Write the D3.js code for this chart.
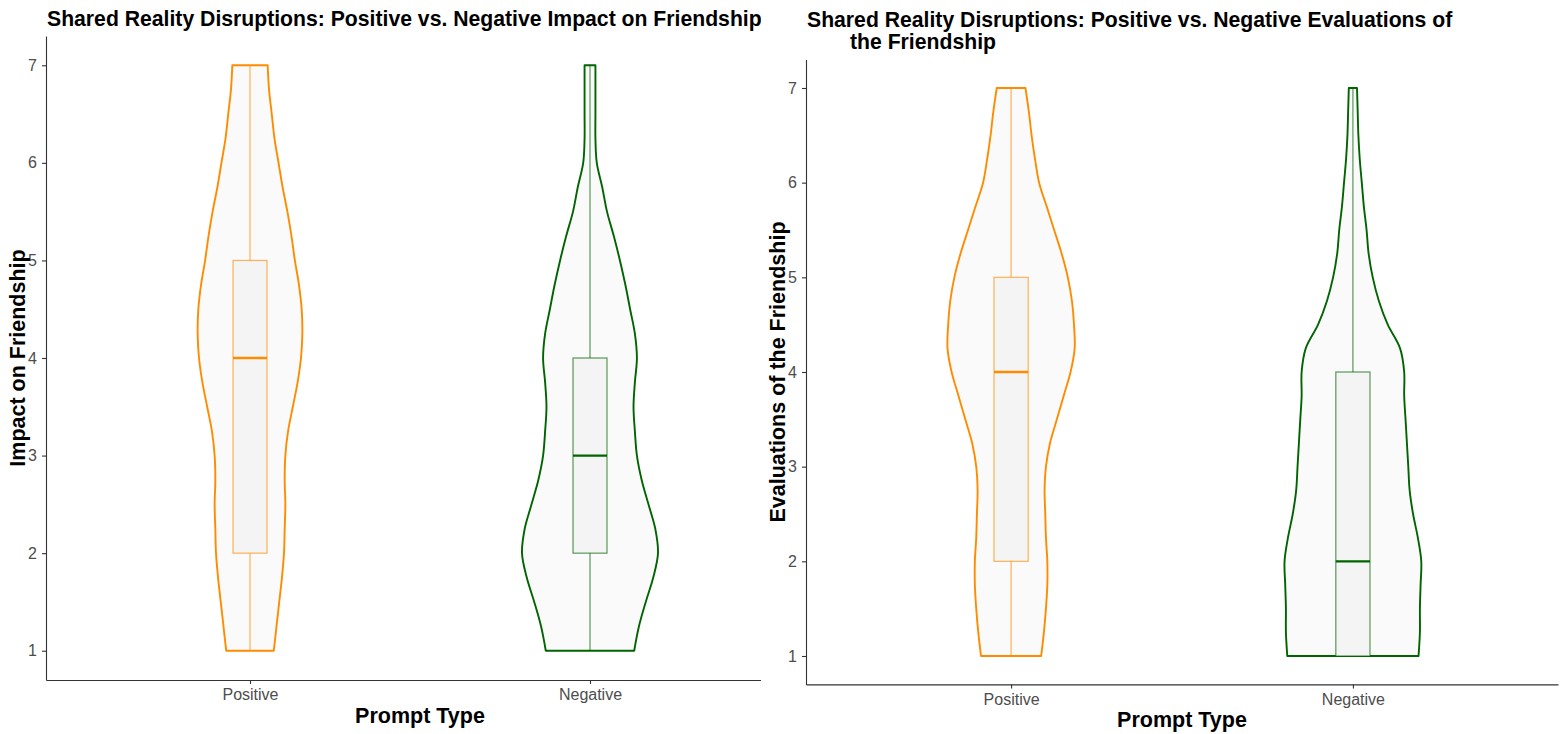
<!DOCTYPE html>
<html>
<head>
<meta charset="utf-8">
<script src="https://cdn.jsdelivr.net/npm/d3@7"></script>
<style>
  html, body { margin: 0; padding: 0; background: #ffffff; }
  svg { display: block; font-family: "Liberation Sans", Arial, sans-serif; }
</style>
</head>
<body>
<svg id="chart" width="1561" height="734"></svg>
<script>
// Prompt categories and y ticks shared by both panels
const categories = ["Positive", "Negative"];
const yTicks = [1, 2, 3, 4, 5, 6, 7];

// Grid of response values at which the violin densities are given
const densityGrid = [1, 1.25, 1.5, 1.75, 2, 2.25, 2.5, 2.75, 3, 3.25, 3.5, 3.75, 4,
                     4.25, 4.5, 4.75, 5, 5.25, 5.5, 5.75, 6, 6.25, 6.5, 6.75, 7];

// Relative densities (max = 1) – Impact on Friendship
const impactPositiveDensity = [0.35, 0.39, 0.43, 0.47, 0.50, 0.51, 0.52, 0.51, 0.52, 0.56, 0.63, 0.70, 0.75,
                               0.77, 0.76, 0.72, 0.66, 0.61, 0.55, 0.48, 0.42, 0.36, 0.32, 0.28, 0.26];
const impactNegativeDensity = [0.65, 0.72, 0.82, 0.93, 1.00, 0.96, 0.86, 0.76, 0.69, 0.66, 0.64, 0.66, 0.69,
                               0.66, 0.59, 0.52, 0.44, 0.35, 0.25, 0.18, 0.10, 0.08, 0.08, 0.08, 0.08];

// Relative densities (max = 1) – Evaluations of the Friendship
const evalPositiveDensity = [0.44, 0.48, 0.51, 0.53, 0.53, 0.51, 0.50, 0.49, 0.51, 0.57, 0.67, 0.77, 0.87,
                             0.93, 0.92, 0.89, 0.83, 0.74, 0.63, 0.52, 0.41, 0.35, 0.30, 0.26, 0.21];
const evalNegativeDensity = [0.96, 0.98, 0.98, 0.99, 1.00, 0.95, 0.88, 0.83, 0.81, 0.79, 0.77, 0.75, 0.75,
                             0.69, 0.51, 0.38, 0.29, 0.23, 0.20, 0.16, 0.13, 0.10, 0.08, 0.07, 0.06];

// Box summaries: [lower whisker, Q1, median, Q3, upper whisker]
const impactPositiveBox = [1, 2, 4, 5, 7];
const impactNegativeBox = [1, 2, 3, 4, 7];
const evalPositiveBox = [1, 2, 4, 5, 7];
const evalNegativeBox = [1, 1, 2, 4, 7];

const groupColors = ["#FF8C00", "#006400"];

const svg = d3.select("#chart");
const defs = svg.append("defs");

function drawPanel(cfg) {
  const clipId = "clip-" + cfg.id;
  defs.append("clipPath").attr("id", clipId)
    .append("rect").attr("x", cfg.clipLeft).attr("y", 0)
    .attr("width", cfg.clipRight - cfg.clipLeft).attr("height", 734);
  const g = svg.append("g").attr("clip-path", `url(#${clipId})`);

  const x = d3.scalePoint().domain(categories).range([cfg.left, cfg.right]).padding(0.6);
  const y = d3.scaleLinear().domain([0.7, 7.3]).range([cfg.bottom, cfg.top]);
  const step = x.step();
  const w = d3.scaleLinear().domain([0, 1]).range([0, 0.2 * step]);
  const boxHalf = 0.05 * step;

  cfg.series.forEach((s, i) => {
    const cx = x(categories[i]);
    const color = groupColors[i];
    const pts = densityGrid.map((v, k) => ({ v, d: s.density[k] }));

    const area = d3.area()
      .y(p => y(p.v))
      .x0(p => cx - w(p.d))
      .x1(p => cx + w(p.d))
      .curve(d3.curveCatmullRom);

    g.append("path")
      .attr("d", area(pts))
      .attr("fill", "#fafafa")
      .attr("stroke", color)
      .attr("stroke-width", 1.9)
      .attr("stroke-linejoin", "round");

    const [lo, q1, med, q3, hi] = s.box;
    // whiskers
    g.append("line")
      .attr("x1", cx).attr("x2", cx).attr("y1", y(q3)).attr("y2", y(hi))
      .attr("stroke", color).attr("stroke-opacity", 0.65).attr("stroke-width", 1.2);
    if (q1 > lo) {
      g.append("line")
        .attr("x1", cx).attr("x2", cx).attr("y1", y(lo)).attr("y2", y(q1))
        .attr("stroke", color).attr("stroke-opacity", 0.65).attr("stroke-width", 1.2);
    }
    // box
    g.append("rect")
      .attr("x", cx - boxHalf).attr("width", 2 * boxHalf)
      .attr("y", y(q3)).attr("height", y(q1) - y(q3))
      .attr("fill", "#f4f4f4")
      .attr("stroke", color).attr("stroke-opacity", 0.65).attr("stroke-width", 1.2);
    // median
    g.append("line")
      .attr("x1", cx - boxHalf).attr("x2", cx + boxHalf).attr("y1", y(med)).attr("y2", y(med))
      .attr("stroke", color).attr("stroke-width", 2.4);
  });

  // axes
  const yAxis = g.append("g").attr("transform", `translate(${cfg.left},0)`)
    .call(d3.axisLeft(y).tickValues(yTicks).tickFormat(d3.format("d"))
      .tickSize(4).tickSizeOuter(0).tickPadding(5));
  const xAxis = g.append("g").attr("transform", `translate(0,${cfg.bottom})`)
    .call(d3.axisBottom(x).tickSize(4).tickSizeOuter(0).tickPadding(5));
  [yAxis, xAxis].forEach(a => {
    a.select(".domain").attr("stroke", "#333333").attr("stroke-width", 1.1);
    a.selectAll(".tick line").attr("stroke", "#333333").attr("stroke-width", 1.1);
    a.selectAll(".tick text").attr("fill", "#4d4d4d").style("font-size", "16px")
      .style("font-family", "'Liberation Sans', Arial, sans-serif");
  });

  // titles
  const title = g.append("text")
    .attr("font-weight", "bold").attr("font-size", 21.2).attr("fill", "#000");
  cfg.title.forEach(line => {
    title.append("tspan").attr("x", line.x).attr("y", line.y).text(line.text);
  });

  g.append("text")
    .attr("transform", `translate(${cfg.yTitleX},${(cfg.top + cfg.bottom) / 2}) rotate(-90)`)
    .attr("text-anchor", "middle").attr("font-weight", "bold").attr("font-size", 21.5)
    .text(cfg.yTitle);

  g.append("text")
    .attr("x", (cfg.left + cfg.right) / 2).attr("y", cfg.xTitleY)
    .attr("text-anchor", "middle").attr("font-weight", "bold").attr("font-size", 21.5)
    .text("Prompt Type");
}

drawPanel({
  id: "impact",
  left: 46, right: 794, top: 36, bottom: 680,
  clipLeft: 0, clipRight: 761,
  series: [
    { density: impactPositiveDensity, box: impactPositiveBox },
    { density: impactNegativeDensity, box: impactNegativeBox }
  ],
  title: [{ x: 47, y: 26, text: "Shared Reality Disruptions: Positive vs. Negative Impact on Friendship" }],
  yTitle: "Impact on Friendship", yTitleX: 25,
  xTitleY: 723
});

drawPanel({
  id: "eval",
  left: 806, right: 1558, top: 59.6, bottom: 684.4,
  clipLeft: 762, clipRight: 1561,
  series: [
    { density: evalPositiveDensity, box: evalPositiveBox },
    { density: evalNegativeDensity, box: evalNegativeBox }
  ],
  title: [
    { x: 807, y: 27, text: "Shared Reality Disruptions: Positive vs. Negative Evaluations of" },
    { x: 850, y: 49, text: "the Friendship" }
  ],
  yTitle: "Evaluations of the Friendship", yTitleX: 785,
  xTitleY: 727
});
</script>
</body>
</html>
